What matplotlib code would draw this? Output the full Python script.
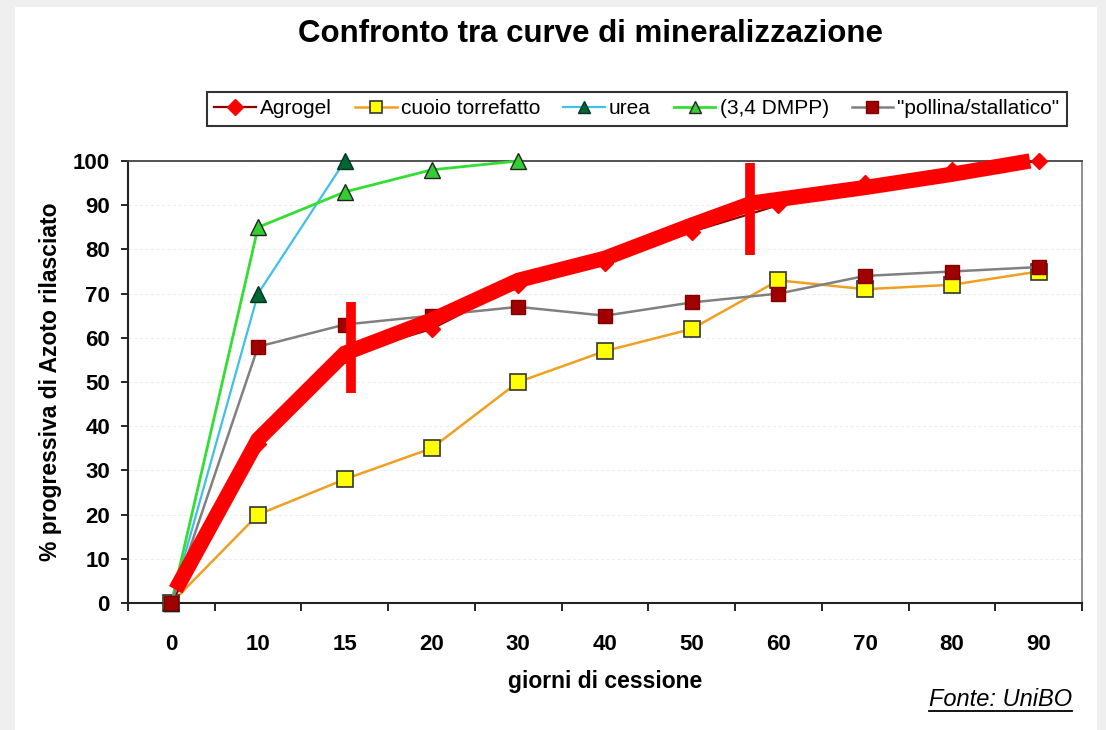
import matplotlib
matplotlib.use("Agg")
import matplotlib.pyplot as plt
from matplotlib.patches import Rectangle
from matplotlib.lines import Line2D

plt.rcParams['font.family'] = ['Liberation Sans', 'DejaVu Sans']

giorni = ["0", "10", "15", "20", "30", "40", "50", "60", "70", "80", "90"]

agrogel = [0, 36, 56, 62, 72, 77, 84, 90, 95, 98, 100]
cuoio = [0, 20, 28, 35, 50, 57, 62, 73, 71, 72, 75]
urea = [0, 70, 100]
dmpp = [0, 85, 93, 98, 100]
pollina = [0, 58, 63, 65, 67, 65, 68, 70, 74, 75, 76]

# hand-drawn red marking on top of the chart (category index, value)
overlay_x = [0.05, 1.0, 2.0, 3.0, 4.0, 5.0, 6.0, 6.7, 8.0, 9.0, 9.9]
overlay_y = [3, 37, 56.5, 64, 73, 78, 85.5, 90.5, 94, 97, 100]
tick1_x, tick1_y = [2.07, 2.07], [47.5, 68]
tick2_x, tick2_y = [6.67, 6.67], [78.7, 99.5]

fig = plt.figure(figsize=(11.06, 7.30), dpi=100, facecolor='#efefef')
fig.patches.append(Rectangle((15 / 1106, 0), 1082 / 1106, 723 / 730,
                             transform=fig.transFigure, facecolor='white',
                             edgecolor='none', zorder=-10))

ax = fig.add_axes([128 / 1106, 1 - 603 / 730, 954 / 1106, 442 / 730])
ax.set_facecolor('white')

idx = list(range(len(giorni)))
ax.plot(idx, agrogel, color='#8b0000', lw=1.6, marker='D', ms=8,
        mfc='#ff0000', mec='#ff0000', label='Agrogel', clip_on=False, zorder=3)
ax.plot(idx, cuoio, color='#f0a020', lw=1.8, marker='s', ms=11,
        mfc='#ffff00', mec='#333333', mew=1.2, label='cuoio torrefatto',
        clip_on=False, zorder=3)
ax.plot(idx[:len(urea)], urea, color='#40bfe8', lw=1.6, marker='^', ms=11,
        mfc='#006633', mec='#003322', label='urea', clip_on=False, zorder=4)
ax.plot(idx[:len(dmpp)], dmpp, color='#33dd33', lw=2.0, marker='^', ms=12,
        mfc='#33cc33', mec='#222222', mew=1.0, label='(3,4 DMPP)',
        clip_on=False, zorder=4)
ax.plot(idx, pollina, color='#808080', lw=1.8, marker='s', ms=10,
        mfc='#a00000', mec='#800000', label='"pollina/stallatico"',
        clip_on=False, zorder=5)

ax.plot(overlay_x, overlay_y, color='#ff0000', lw=11, solid_capstyle='butt',
        solid_joinstyle='miter', zorder=10, clip_on=False)
ax.plot(tick1_x, tick1_y, color='#ff0000', lw=7, solid_capstyle='butt',
        zorder=10, clip_on=False)
ax.plot(tick2_x, tick2_y, color='#ff0000', lw=7, solid_capstyle='butt',
        zorder=10, clip_on=False)

ax.set_xlim(-0.5, len(giorni) - 0.5)
ax.set_ylim(0, 100)
ax.set_yticks(range(0, 101, 10))
ax.set_xticks(idx)
ax.set_xticklabels(giorni)
ax.set_xticks([i - 0.5 for i in range(len(giorni) + 1)], minor=True)
ax.tick_params(axis='x', which='major', length=0, pad=22, labelsize=16)
ax.tick_params(axis='x', which='minor', length=6, width=1.2, direction='out')
ax.tick_params(axis='y', length=5, width=1.2, direction='out', pad=8,
               labelsize=16)
for lab in ax.get_xticklabels() + ax.get_yticklabels():
    lab.set_fontweight('bold')

ax.grid(axis='y', color='#eeeeee', lw=0.8, ls=(0, (3, 2)))
ax.set_axisbelow(True)

for s in ['left', 'bottom']:
    ax.spines[s].set_color('#222222')
    ax.spines[s].set_linewidth(1.5)
ax.spines['top'].set_color('#444444')
ax.spines['top'].set_linewidth(1.3)
ax.spines['right'].set_color('#888888')
ax.spines['right'].set_linewidth(1.3)

ax.set_xlabel('giorni di cessione', fontsize=16.5, fontweight='bold',
              labelpad=11)
ax.set_ylabel('% progressiva di Azoto rilasciato', fontsize=16.5,
              fontweight='bold', labelpad=8)

fig.text(591 / 1106, 1 - 34 / 730, 'Confronto tra curve di mineralizzazione',
         ha='center', va='center', fontsize=22.5, fontweight='bold')

leg = fig.legend(loc='upper left', bbox_to_anchor=(207 / 1106, 1 - 92 / 730),
                 ncol=5, fontsize=15, frameon=True, fancybox=False,
                 edgecolor='black', handlelength=2.0, handletextpad=0.2,
                 columnspacing=1.1, borderpad=0.35, borderaxespad=0)
leg.get_frame().set_linewidth(1.5)
for h in leg.legend_handles:
    h.set_markersize(8)
for t in leg.get_texts():
    t.set_fontweight('medium')

src = fig.text(1072 / 1106, 1 - 700 / 730, 'Fonte: UniBO', ha='right',
               va='center', fontsize=17, fontstyle='italic')
fig.canvas.draw()
bb = src.get_window_extent()
fig.lines.append(Line2D([bb.x0 / 1106, bb.x1 / 1106],
                        [(bb.y0 + 1) / 730, (bb.y0 + 1) / 730],
                        transform=fig.transFigure, color='black', lw=1.3))

fig.savefig('out.png', dpi=100, facecolor=fig.get_facecolor())
